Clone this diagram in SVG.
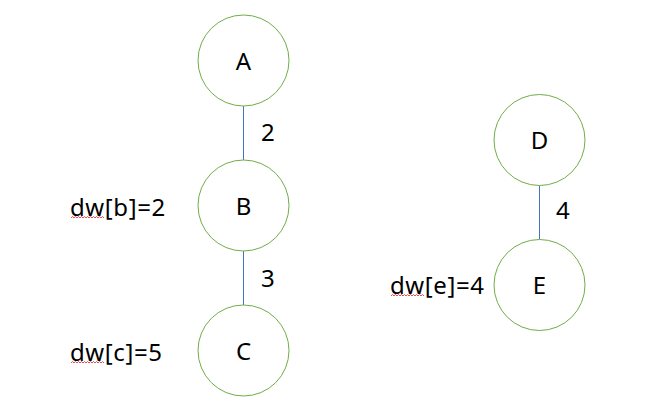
<svg xmlns="http://www.w3.org/2000/svg" width="661" height="416" viewBox="0 0 661 416">
<style>
.node{fill:#fff;stroke:#70ad47;stroke-width:1}
.t{font-family:"Noto Sans","Open Sans","Liberation Sans",sans-serif;font-size:24px;fill:#000}
.m{text-anchor:middle}
.l{letter-spacing:0.6px}
.edge{stroke:#4472c4;stroke-width:1}
.sq{fill:none;stroke:#e02020;stroke-width:0.8}
</style>
<rect width="661" height="416" fill="#fff"/>
<g id="connectors">
<line class="edge" x1="243.5" y1="106" x2="243.5" y2="160"/>
<line class="edge" x1="243.5" y1="251" x2="243.5" y2="305"/>
<line class="edge" x1="539.5" y1="185.5" x2="539.5" y2="239.5"/>
<text class="t" x="261" y="141">2</text>
<text class="t" x="261" y="287">3</text>
<text class="t" x="556" y="219">4</text>
</g>
<g id="A"><circle class="node" cx="243.5" cy="60.5" r="45.5"/><text class="t m" x="243.5" y="70">A</text></g>
<g id="B"><circle class="node" cx="243.5" cy="205.5" r="45.5"/><text class="t m" x="243.5" y="215">B</text></g>
<g id="C"><circle class="node" cx="243.5" cy="350.5" r="45.5"/><text class="t m" x="243.5" y="360">C</text></g>
<g id="D"><circle class="node" cx="539.5" cy="140" r="45.5"/><text class="t m" x="539.5" y="149">D</text></g>
<g id="E"><circle class="node" cx="539.5" cy="285" r="45.5"/><text class="t m" x="539.5" y="294">E</text></g>
<g id="labels">
<text class="t l" x="70" y="216">dw[b]=2</text>
<path class="sq" d="M71 218 l1.5 -1.5 l1.5 1.5 l1.5 -1.5 l1.5 1.5 l1.5 -1.5 l1.5 1.5 l1.5 -1.5 l1.5 1.5 l1.5 -1.5 l1.5 1.5 l1.5 -1.5 l1.5 1.5 l1.5 -1.5 l1.5 1.5 l1.5 -1.5 l1.5 1.5 l1.5 -1.5 l1.5 1.5 l1.5 -1.5 l1.5 1.5 l1.5 -1.5 l1.5 1.5"/>
<text class="t l" x="70" y="361">dw[c]=5</text>
<path class="sq" d="M71 363 l1.5 -1.5 l1.5 1.5 l1.5 -1.5 l1.5 1.5 l1.5 -1.5 l1.5 1.5 l1.5 -1.5 l1.5 1.5 l1.5 -1.5 l1.5 1.5 l1.5 -1.5 l1.5 1.5 l1.5 -1.5 l1.5 1.5 l1.5 -1.5 l1.5 1.5 l1.5 -1.5 l1.5 1.5 l1.5 -1.5 l1.5 1.5 l1.5 -1.5 l1.5 1.5"/>
<text class="t l" x="390" y="294">dw[e]=4</text>
<path class="sq" d="M391 296 l1.5 -1.5 l1.5 1.5 l1.5 -1.5 l1.5 1.5 l1.5 -1.5 l1.5 1.5 l1.5 -1.5 l1.5 1.5 l1.5 -1.5 l1.5 1.5 l1.5 -1.5 l1.5 1.5 l1.5 -1.5 l1.5 1.5 l1.5 -1.5 l1.5 1.5 l1.5 -1.5 l1.5 1.5 l1.5 -1.5 l1.5 1.5 l1.5 -1.5 l1.5 1.5"/>
</g>
</svg>
